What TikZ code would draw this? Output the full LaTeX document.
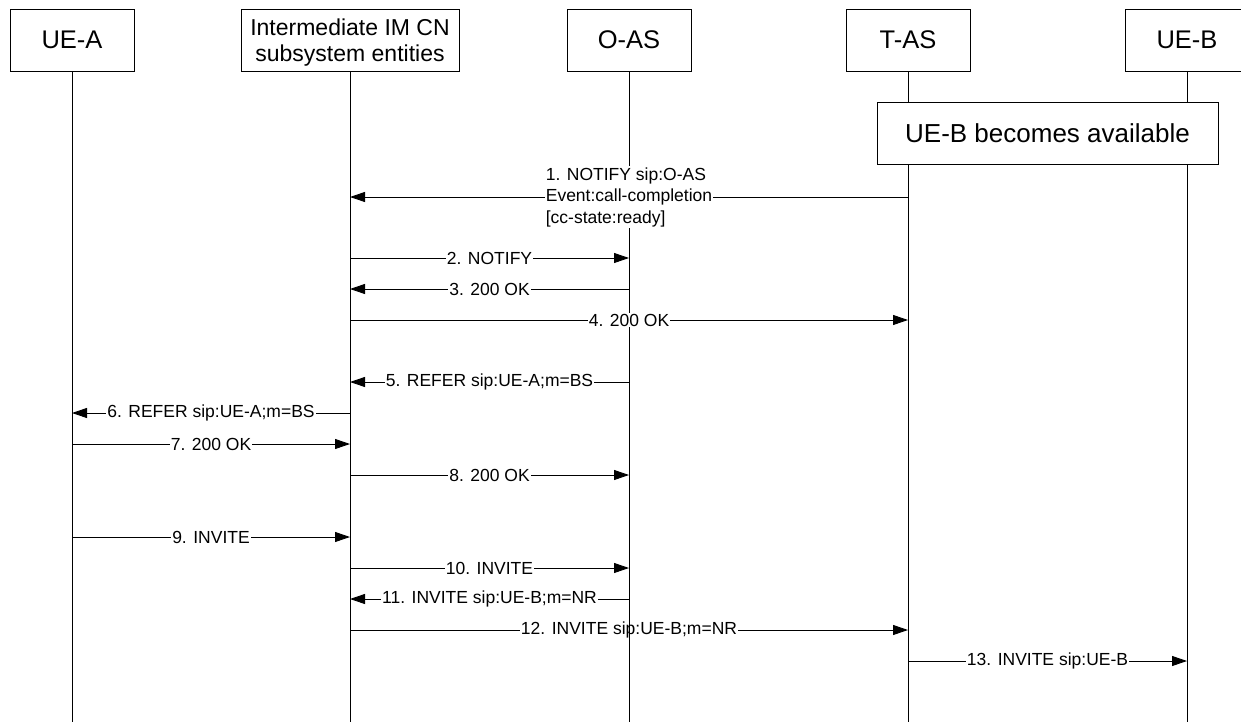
\documentclass[tikz,border=0pt]{standalone}
\usepackage{fontspec}
\setmainfont{Liberation Sans}
\usetikzlibrary{arrows.meta}
\begin{document}
\begin{tikzpicture}[x=1pt,y=-1pt,
  ent/.style={draw, line width=0.9pt, minimum height=62pt, minimum width=124pt, inner sep=0pt,
    font=\fontsize{25.5}{29}\selectfont, fill=white},
  imsbox/.style={ent, minimum width=218pt},
  imstext/.style={inner sep=0pt, align=center, font=\fontsize{23}{26}\selectfont},
  life/.style={line width=0.9pt},
  msg/.style={line width=0.9pt, -{Triangle[length=15pt,width=10pt]}},
  lbl/.style={fill=white, inner sep=1pt, font=\fontsize{17.5}{21.5}\selectfont}]
\useasboundingbox (0,0) rectangle (1241,722);
% entities
\node[ent] (uea) at (72,40) {UE-A};
\node[imsbox] (ims) at (350,40) {};
\node[imstext] (imst) at ([yshift=-2.5pt]ims.center) {Intermediate IM CN\\subsystem entities};
\node[ent] (oas) at (629,40) {O-AS};
\node[ent] (tas) at (908,40) {T-AS};
\node[ent] (ueb) at (1187,40) {UE-B};
\coordinate (bot) at (0,722);
% lifelines
\foreach \e in {uea,ims,oas,tas,ueb} {
  \draw[life] (\e.south) -- (\e |- bot);
}
% message rows
\coordinate (y1) at (0,197);
\coordinate (y2) at (0,258);
\coordinate (y3) at (0,289);
\coordinate (y4) at (0,320);
\coordinate (y5) at (0,382);
\coordinate (y6) at (0,413);
\coordinate (y7) at (0,444);
\coordinate (y8) at (0,475);
\coordinate (y9) at (0,537);
\coordinate (y10) at (0,568);
\coordinate (y11) at (0,599);
\coordinate (y12) at (0,630);
\coordinate (y13) at (0,661);
% messages
\draw[msg] (tas |- y1) -- node[lbl, align=left] {1. NOTIFY sip:O-AS\\Event:call-completion\\{[}cc-state:ready{]}} (ims |- y1);
\draw[msg] (ims |- y2) -- node[lbl] {2. NOTIFY} (oas |- y2);
\draw[msg] (oas |- y3) -- node[lbl] {3. 200 OK} (ims |- y3);
\draw[msg] (ims |- y4) -- node[lbl] {4. 200 OK} (tas |- y4);
\draw[msg] (oas |- y5) -- node[lbl] {5. REFER sip:UE-A;m=BS} (ims |- y5);
\draw[msg] (ims |- y6) -- node[lbl] {6. REFER sip:UE-A;m=BS} (uea |- y6);
\draw[msg] (uea |- y7) -- node[lbl] {7. 200 OK} (ims |- y7);
\draw[msg] (ims |- y8) -- node[lbl] {8. 200 OK} (oas |- y8);
\draw[msg] (uea |- y9) -- node[lbl] {9. INVITE} (ims |- y9);
\draw[msg] (ims |- y10) -- node[lbl] {10. INVITE} (oas |- y10);
\draw[msg] (oas |- y11) -- node[lbl] {11. INVITE sip:UE-B;m=NR} (ims |- y11);
\draw[msg] (ims |- y12) -- node[lbl] {12. INVITE sip:UE-B;m=NR} (tas |- y12);
\draw[msg] (tas |- y13) -- node[lbl] {13. INVITE sip:UE-B} (ueb |- y13);
% O-AS lifeline shows through label 12
\draw[life] (oas |- y11) -- (oas |- bot);
% state box
\node[draw, line width=0.9pt, fill=white, minimum width=341pt, minimum height=62pt, inner sep=0pt,
  font=\fontsize{26}{30}\selectfont] (avail) at (1047.5,133.5) {UE-B becomes available};
\end{tikzpicture}
\end{document}
